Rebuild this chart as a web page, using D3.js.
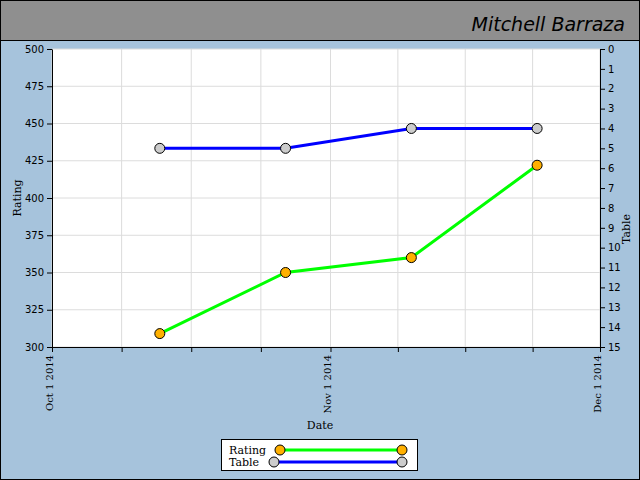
<!DOCTYPE html>
<html><head><meta charset="utf-8">
<script src="https://cdn.jsdelivr.net/npm/d3@7"></script>
<style>body{margin:0}svg{display:block}</style>
</head><body>
<svg id="chart" width="640" height="480"></svg>
<script>
// data
var dates = ["2014-10-13", "2014-10-27", "2014-11-10", "2014-11-24"]
var rating = [309, 350, 360, 422]
var table = [5, 5, 4, 4]
var ratingTicks = [300, 325, 350, 375, 400, 425, 450, 475, 500]
var tableTicks = d3.range(0, 16)
var dateLabels = ["2014-10-01", "2014-11-01", "2014-12-01"]

var parse = d3.timeParse("%Y-%m-%d")
var svg = d3.select("#chart")
var pLeft = 52, pRight = 600, pTop = 49, pBottom = 347

svg.append("rect").attr("width", 640).attr("height", 480).attr("fill", "#a6c3dc")
svg.append("rect").attr("x", 0.5).attr("y", 0.5).attr("width", 639).attr("height", 479)
    .attr("fill", "none").attr("stroke", "#000")
svg.append("rect").attr("x", 0.5).attr("y", 0.5).attr("width", 639).attr("height", 40)
    .attr("fill", "#8f8f8f").attr("stroke", "#000")
svg.append("text").attr("x", 625).attr("y", 31).attr("text-anchor", "end")
    .style("font-family", "'DejaVu Sans'").style("font-size", "19px").style("font-style", "italic")
    .style("font-weight", "200").text("Mitchell Barraza")

var x = d3.scaleTime().domain([parse("2014-10-01"), parse("2014-12-01")]).range([pLeft, pRight])
var yR = d3.scaleLinear().domain([300, 500]).range([pBottom, pTop])
var yT = d3.scaleLinear().domain([0, 15]).range([pTop, pBottom])

// tick positions: quarters of each month
var gridTicks = []
var months = [parse("2014-10-01"), parse("2014-11-01"), parse("2014-12-01")]
for (var m = 0; m < 2; m++) {
    for (var q = 0; q < 4; q++) {
        gridTicks.push(new Date(+months[m] + (months[m + 1] - months[m]) * q / 4))
    }
}
gridTicks.push(months[2])

svg.append("rect").attr("x", pLeft).attr("y", pTop).attr("width", pRight - pLeft).attr("height", pBottom - pTop).attr("fill", "#fff")

var g = svg.append("g")
g.selectAll(".vg").data(gridTicks).enter().append("line")
    .attr("x1", d => x(d)).attr("x2", d => x(d)).attr("y1", pTop).attr("y2", pBottom)
    .attr("stroke", "#dcdcdc")
g.selectAll(".hg").data(ratingTicks).enter().append("line")
    .attr("x1", pLeft).attr("x2", pRight).attr("y1", d => yR(d)).attr("y2", d => yR(d))
    .attr("stroke", "#dcdcdc")

var tickFont = function (sel) {
    sel.selectAll("text").style("font-family", "'DejaVu Sans'").style("font-size", "10px").attr("fill", "#000")
    sel.select(".domain").attr("stroke", "#000")
}
svg.append("g").attr("transform", "translate(" + pLeft + ",0)")
    .call(d3.axisLeft(yR).tickValues(ratingTicks).tickSize(5).tickSizeOuter(0)).call(tickFont)
svg.append("g").attr("transform", "translate(" + pRight + ",0)")
    .call(d3.axisRight(yT).tickValues(tableTicks).tickSize(5).tickSizeOuter(0)).call(tickFont)
var labelSet = dateLabels.map(d => +parse(d))
var xa = svg.append("g").attr("transform", "translate(0," + pBottom + ")")
    .call(d3.axisBottom(x).tickValues(gridTicks).tickSize(5).tickSizeOuter(0)
        .tickFormat(d => labelSet.indexOf(+d) >= 0 ? d3.timeFormat("%b %-d %Y")(d) : ""))
xa.select(".domain").attr("stroke", "#000")
xa.selectAll("text").style("font-family", "'DejaVu Serif'").style("font-size", "10px").attr("fill", "#000")
    .attr("transform", "rotate(-90)").attr("text-anchor", "end").attr("x", -8).attr("y", -3).attr("dy", "0.35em")

var serif = sel => sel.style("font-family", "'DejaVu Serif'").style("font-size", "11px")
svg.append("text").attr("transform", "translate(21,198) rotate(-90)").attr("text-anchor", "middle").text("Rating").call(serif)
svg.append("text").attr("transform", "translate(630,229) rotate(-90)").attr("text-anchor", "middle").text("Table").call(serif)
svg.append("text").attr("x", 320).attr("y", 429).attr("text-anchor", "middle").text("Date").call(serif)

var pts = dates.map((d, i) => ({ date: parse(d), r: rating[i], t: table[i] }))
function series(key, y, color, fill) {
    svg.append("path").datum(pts).attr("fill", "none").attr("stroke", color).attr("stroke-width", 3)
        .attr("d", d3.line().x(d => x(d.date)).y(d => y(d[key])))
    svg.selectAll(".p" + key).data(pts).enter().append("circle")
        .attr("cx", d => x(d.date)).attr("cy", d => y(d[key])).attr("r", 5)
        .attr("fill", fill).attr("stroke", "#000")
}
series("t", yT, "#0000ff", "#cccccc")
series("r", yR, "#00ff00", "#ffb000")

// legend
svg.append("rect").attr("x", 221.5).attr("y", 439.5).attr("width", 196).attr("height", 31).attr("fill", "#fff").attr("stroke", "#000")
var leg = [{ name: "Rating", stroke: "#00ff00", fill: "#ffb000", x1: 280, y: 450 },
           { name: "Table", stroke: "#0000ff", fill: "#cccccc", x1: 274, y: 462 }]
leg.forEach(function (l) {
    svg.append("text").attr("x", 229).attr("y", l.y + 4).text(l.name).call(serif)
    svg.append("line").attr("x1", l.x1).attr("x2", 402).attr("y1", l.y).attr("y2", l.y).attr("stroke", l.stroke).attr("stroke-width", 3)
    ;[l.x1, 402].forEach(cx => svg.append("circle").attr("cx", cx).attr("cy", l.y).attr("r", 5).attr("fill", l.fill).attr("stroke", "#000"))
})
</script>
</body></html>
